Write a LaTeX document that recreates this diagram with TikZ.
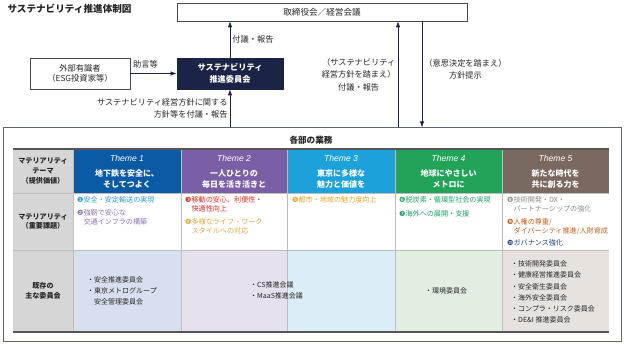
\documentclass[tikz,border=0pt]{standalone}
\usepackage{fontspec}
\setmainfont{Noto Sans CJK JP}
\newfontfamily\dingfont{DejaVu Sans}
\newfontfamily\latinfont{Liberation Sans}
\usetikzlibrary{arrows.meta, positioning, calc}
\definecolor{ink}{HTML}{262626}
\definecolor{navy}{HTML}{1B2346}
\definecolor{boxline}{HTML}{4A4A4A}
\definecolor{frame}{HTML}{5D6478}
\definecolor{labelgray}{HTML}{D6D6D6}
\definecolor{gridgray}{HTML}{BDBDBD}
\definecolor{rulegray}{HTML}{555555}
\definecolor{themeA}{HTML}{0B5AA6}
\definecolor{themeB}{HTML}{7B5FA6}
\definecolor{themeC}{HTML}{1DA1DB}
\definecolor{themeD}{HTML}{22A35A}
\definecolor{themeE}{HTML}{7A6961}
\definecolor{softA}{HTML}{D8E0EF}
\definecolor{softB}{HTML}{E5E1ED}
\definecolor{softC}{HTML}{DBEEF8}
\definecolor{softD}{HTML}{E0EFE0}
\definecolor{softE}{HTML}{E7E2DE}
\definecolor{matA}{HTML}{2A9AD6}
\definecolor{matB}{HTML}{8C74B4}
\definecolor{matC}{HTML}{E3241B}
\definecolor{matD}{HTML}{E3A33A}
\definecolor{matE}{HTML}{EE9C1E}
\definecolor{matF}{HTML}{1FA06A}
\definecolor{matH}{HTML}{8A8A8A}
\definecolor{matI}{HTML}{C0601A}
\definecolor{matJ}{HTML}{1F3F86}
\newcommand{\matnum}[1]{{\dingfont #1}}

\begin{document}
\begin{tikzpicture}[x=1pt, y=-1pt, text=ink,
    font=\fontsize{8.3}{10.5}\selectfont,
    plainbox/.style={draw=boxline, line width=0.6pt, fill=white, inner sep=0pt, align=center},
    arr/.style={draw=navy, line width=0.9pt, -{Latex[length=6pt,width=4.5pt]}},
    lbl/.style={font=\fontsize{8.2}{12.5}\selectfont, inner sep=2pt},
    rowlabel/.style={font=\fontsize{7.1}{9.8}\selectfont\bfseries, align=center, inner sep=0pt},
    themetag/.style={font=\latinfont\itshape\fontsize{8.6}{9}\selectfont, text=white, inner sep=0pt},
    themetitle/.style={font=\fontsize{8}{11}\selectfont\bfseries, text=white, align=center, inner sep=0pt},
    issue/.style={anchor=north west, align=left, inner sep=0pt, font=\fontsize{7.1}{9.6}\selectfont},
    committees/.style={anchor=west, align=left, inner sep=0pt, font=\fontsize{7}{11.2}\selectfont},
    gridline/.style={draw=gridgray, line width=0.6pt},
    rulethick/.style={draw=rulegray, line width=1.3pt}]
  \useasboundingbox (0,0) rectangle (624,344);

  \node[anchor=west, font=\fontsize{9.6}{11}\selectfont\bfseries] (title) at (4,9) {サステナビリティ推進体制図};

  \node[plainbox, minimum width=290pt, minimum height=18pt, font=\fontsize{8.6}{10}\selectfont] (board) at (322,12) {取締役会／経営会議};
  \node[plainbox, minimum width=100pt, minimum height=31pt] (expert) at (80,73.5) {外部有識者\\（ESG投資家等）};
  \node[plainbox, fill=navy, draw=navy, text=white, font=\fontsize{8.2}{11.5}\selectfont\bfseries,
    minimum width=106pt, minimum height=31pt] (committee) at (230,73.5) {サステナビリティ\\推進委員会};
  \node[draw=frame, line width=1pt, minimum width=618pt, minimum height=214pt, inner sep=0pt] (dept) at (312,235) {};
  \node[font=\fontsize{8.6}{10}\selectfont\bfseries] (deptname) at (311,140) {各部の業務};

  \coordinate (upR) at (398,0);
  \coordinate (downR) at (422,0);
  \draw[arr] (expert) -- node[lbl, above=3pt, xshift=-8pt] (advice) {助言等} (committee);
  \draw[arr] (committee.north) -- node[lbl, right] (report) {付議・報告} (committee.north |- board.south);
  \draw[arr] (committee.south |- dept.north) -- node[lbl, left, align=right] (policy)
    {サステナビリティ経営方針に関する\\方針等を付議・報告} (committee.south);
  \draw[arr] (upR |- dept.north) -- node[lbl, left, align=center] (upnote)
    {（サステナビリティ\\経営方針を踏まえ）\\付議・報告} (upR |- board.south);
  \draw[arr] (downR |- board.south) -- node[lbl, right, align=center, pos=0.45] (downnote)
    {（意思決定を踏まえ）\\方針提示} (downR |- dept.north);

  \fill[labelgray] (13,149) rectangle (73,193);
  \fill[labelgray] (13,193) rectangle (73,250);
  \fill[labelgray] (13,250) rectangle (73,332);
  \node[rowlabel] (rowtheme) at (43,171) {マテリアリティ\\テーマ\\（提供価値）};
  \node[rowlabel] (rowissue) at (43,221.5) {マテリアリティ\\（重要課題）};
  \node[rowlabel] (rowcomm) at (43,291) {既存の\\主な委員会};

  \fill[themeA] (73,149) rectangle (181,193);
  \fill[themeB] (181,149) rectangle (287,193);
  \fill[themeC] (287,149) rectangle (395,193);
  \fill[themeD] (395,149) rectangle (502,193);
  \fill[themeE] (502,149) rectangle (609,193);
  \fill[softA] (73,250) rectangle (181,332);
  \fill[softB] (181,250) rectangle (287,332);
  \fill[softC] (287,250) rectangle (395,332);
  \fill[softD] (395,250) rectangle (502,332);
  \fill[softE] (502,250) rectangle (609,332);

  \node[themetag] (tag1) at (127,158.5) {Theme 1};
  \node[themetag] (tag2) at (234,158.5) {Theme 2};
  \node[themetag] (tag3) at (341,158.5) {Theme 3};
  \node[themetag] (tag4) at (448.5,158.5) {Theme 4};
  \node[themetag] (tag5) at (555.5,158.5) {Theme 5};
  \node[themetitle] (head1) at (127,179) {地下鉄を安全に、\\そしてつよく};
  \node[themetitle] (head2) at (234,179) {一人ひとりの\\毎日を活き活きと};
  \node[themetitle] (head3) at (341,179) {東京に多様な\\魅力と価値を};
  \node[themetitle] (head4) at (448.5,179) {地球にやさしい\\メトロに};
  \node[themetitle] (head5) at (555.5,179) {新たな時代を\\共に創る力を};

  \draw[gridline] (73,149) -- (73,332);
  \draw[gridline] (181,149) -- (181,332);
  \draw[gridline] (287,149) -- (287,332);
  \draw[gridline] (395,149) -- (395,332);
  \draw[gridline] (502,149) -- (502,332);
  \draw[gridline] (13,193) -- (609,193);
  \draw[gridline] (13,250) -- (609,250);
  \draw[rulethick] (13,149) -- (609,149);
  \draw[rulethick] (13,332) -- (609,332);

  \node[issue, text=matA] (m1) at (77,196) {\matnum{❶}安全・安定輸送の実現};
  \node[issue, text=matB] (m2) at (77,209) {\matnum{❷}強靭で安心な\\\phantom{\matnum{❷}}交通インフラの構築};
  \node[issue, text=matC] (m3) at (185,196) {\matnum{❸}移動の安心、利便性・\\\phantom{\matnum{❸}}快適性向上};
  \node[issue, text=matD] (m4) at (185,218) {\matnum{❹}多様なライフ・ワーク\\\phantom{\matnum{❹}}スタイルへの対応};
  \node[issue, text=matE] (m5) at (292,196) {\matnum{❺}都市・地域の魅力度向上};
  \node[issue, text=matF] (m6) at (399,196) {\matnum{❻}脱炭素・循環型社会の実現};
  \node[issue, text=matF] (m7) at (399,210) {\matnum{❼}海外への展開・支援};
  \node[issue, text=matH] (m8) at (507,196) {\matnum{❽}技術開発・DX・\\\phantom{\matnum{❽}}パートナーシップの強化};
  \node[issue, text=matI] (m9) at (507,218) {\matnum{❾}人権の尊重/\\\phantom{\matnum{❾}}ダイバーシティ推進/人財育成};
  \node[issue, text=matJ] (m10) at (507,239) {\matnum{❿}ガバナンス強化};

  \node[committees] (c1) at (87,291) {・安全推進委員会\\・東京メトログループ\\\phantom{・}安全管理委員会};
  \node[committees] (c23) at (250,290) {・CS推進会議\\・MaaS推進会議};
  \node[committees] (c4) at (425,291) {・環境委員会};
  \node[committees] (c5) at (511,292) {・技術開発委員会\\・健康経営推進委員会\\・安全衛生委員会\\・海外安全委員会\\・コンプラ・リスク委員会\\・DE\&I 推進委員会};
\end{tikzpicture}
\end{document}
